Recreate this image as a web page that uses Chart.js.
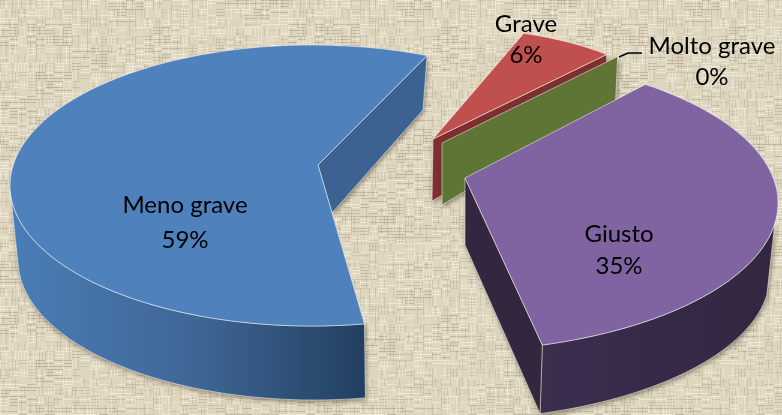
<!DOCTYPE html>
<html>
<head>
<meta charset="utf-8">
<title>Pie 3D</title>
<script src="https://cdn.jsdelivr.net/npm/chart.js@4/dist/chart.umd.js"></script>
<style>
  html, body { margin: 0; padding: 0; background: #dfd6c0; overflow: hidden; }
  canvas { display: block; }
</style>
</head>
<body>
<canvas id="pie" width="782" height="415"></canvas>
<script>
const categories = ['Meno grave', 'Grave', 'Molto grave', 'Giusto'];
const percents = [59, 6, 0, 35];
const colors = ['#4f81bd', '#c0504d', '#9bbb59', '#8064a2'];

// come ogni fetta viene proiettata: vertice e bordo ellittico, sopra e sotto
const views = [
  { twist: 0, top: { ax: 318, ay: 165, cx: 312, cy: 185.5, rx: 302, ry: 140.5 },
    bottom: { ax: 332, ay: 213, cx: 314, cy: 260, rx: 296, ry: 140 }, cutEnd: [423, 110],
    wallArc: [80, 178], wallX: [18, 366], wall: ['#4a7cb5', '#3f6796', '#223f60'], cut: '#3b6291' },
  { twist: -7.4, top: { ax: 433, ay: 139, cx: 460, cy: 158, rx: 246, ry: 129 },
    bottom: { ax: 432, ay: 201, cx: 460, cy: 204, rx: 246, ry: 129 },
    cut: '#7f2f2f' },
  { twist: 0, top: { ax: 442, ay: 143, cx: 444, cy: 150, rx: 250, ry: 130 },
    bottom: { ax: 442, ay: 205, cx: 442, cy: 194, rx: 250, ry: 130 },
    cut: '#5f7536' },
  { twist: -7, top: { ax: 465, ay: 178, cx: 445, cy: 203, rx: 333, ry: 148.5 },
    bottom: { ax: 465, ay: 245, cx: 445, cy: 275, rx: 325, ry: 145 },
    wallArc: [8, 73], wallX: [540, 778], wall: ['#3c2e4e', '#372a48', '#33263f'], cut: '#33263f' }
];

const labelSpots = [[185, 205, 240], [526, 24, 55], [712, 46, 77], [619, 234, 266]];

// texture di sfondo, trama di fili chiari e scuri
function weave() {
  const tile = document.createElement('canvas');
  tile.width = 288;
  tile.height = 288;
  const t = tile.getContext('2d');
  t.fillStyle = '#dfd6c0';
  t.fillRect(0, 0, 288, 288);
  const hash = (a, b) => {
    const s = Math.sin(a * 12.9898 + b * 78.233) * 43758.5453;
    return s - Math.floor(s);
  };
  t.filter = 'blur(0.6px)';
  for (let y = 0; y < 288; y += 3) {
    for (let x = 0; x < 288; x += 9) {
      const h = hash(x, y);
      const patch = hash(Math.floor(x / 36), Math.floor(y / 24) + 5);
      if (h < 0.25 + patch * 0.3) t.fillStyle = 'rgba(140,125,95,' + (0.12 + patch * 0.25) + ')';
      else if (h > 0.7) t.fillStyle = 'rgba(252,248,235,0.5)';
      else continue;
      t.fillRect(x, y, 9, 1);
    }
  }
  for (let x = 0; x < 288; x += 3) {
    for (let y = 0; y < 288; y += 9) {
      const h = hash(y + 300, x);
      if (h < 0.28) t.fillStyle = 'rgba(140,125,95,0.2)';
      else if (h > 0.72) t.fillStyle = 'rgba(252,248,235,0.4)';
      else continue;
      t.fillRect(x, y, 1, 9);
    }
  }
  return tile;
}

function rimPoint(g, deg) {
  const a = deg * Math.PI / 180;
  return [g.cx + g.rx * Math.cos(a), g.cy + g.ry * Math.sin(a)];
}

function rimPath(ctx, g, from, to) {
  const steps = Math.max(2, Math.ceil(Math.abs(to - from) / 2));
  for (let i = 0; i <= steps; i++) {
    const p = rimPoint(g, from + (to - from) * i / steps);
    ctx.lineTo(p[0], p[1]);
  }
}

function drawSlice(ctx, el, view, color) {
  const from = el.startAngle * 180 / Math.PI + view.twist;
  const to = el.endAngle * 180 / Math.PI + view.twist;
  const top = view.top, bottom = view.bottom;

  ctx.strokeStyle = 'rgba(255,255,255,0.5)';
  ctx.lineWidth = 1;

  ctx.save();
  ctx.shadowColor = 'rgba(60,50,30,0.55)';
  ctx.shadowBlur = 5;
  ctx.shadowOffsetX = 1;
  ctx.shadowOffsetY = 2;

  // parete esterna
  if (view.wall) {
    const grad = ctx.createLinearGradient(view.wallX[0], 0, view.wallX[1], 0);
    view.wall.forEach((c, i) => grad.addColorStop(i / (view.wall.length - 1), c));
    ctx.fillStyle = grad;
    ctx.beginPath();
    rimPath(ctx, top, view.wallArc[0], view.wallArc[1]);
    rimPath(ctx, bottom, view.wallArc[1], view.wallArc[0]);
    ctx.closePath();
    ctx.fill();
    ctx.shadowColor = 'transparent';
    ctx.stroke();
  }

  // parete del taglio
  ctx.shadowColor = 'rgba(60,50,30,0.55)';
  const rimTop = rimPoint(top, to);
  const rimBottom = view.cutEnd || rimPoint(bottom, to);
  ctx.fillStyle = view.cut;
  ctx.beginPath();
  ctx.moveTo(top.ax, top.ay);
  ctx.lineTo(rimTop[0], rimTop[1]);
  ctx.lineTo(rimBottom[0], rimBottom[1]);
  ctx.lineTo(bottom.ax, bottom.ay);
  ctx.closePath();
  ctx.fill();
  ctx.shadowColor = 'transparent';
  ctx.stroke();
  ctx.restore();

  // faccia superiore
  if (to - from > 0.01) {
    ctx.fillStyle = color;
    ctx.beginPath();
    ctx.moveTo(top.ax, top.ay);
    rimPath(ctx, top, from, to);
    ctx.closePath();
    ctx.fill();
    ctx.stroke();
  }
}

const pie3d = {
  id: 'pie3d',
  beforeDraw(chart) {
    const ctx = chart.ctx;
    ctx.fillStyle = ctx.createPattern(weave(), 'repeat');
    ctx.fillRect(0, 0, chart.width, chart.height);
  },
  beforeDatasetsDraw(chart) {
    const ctx = chart.ctx;
    chart.getDatasetMeta(0).data.forEach((el, i) => {
      drawSlice(ctx, el, views[i], colors[i]);
    });
    return false;
  },
  afterDraw(chart) {
    const ctx = chart.ctx;
    ctx.strokeStyle = '#000';
    ctx.lineWidth = 1.4;
    ctx.beginPath();
    ctx.moveTo(619, 57);
    ctx.lineTo(628, 53);
    ctx.lineTo(642, 53);
    ctx.stroke();

    ctx.fillStyle = '#000';
    ctx.font = '24px Lato';
    ctx.textAlign = 'center';
    ctx.textBaseline = 'middle';
    categories.forEach((name, i) => {
      ctx.fillText(name, labelSpots[i][0], labelSpots[i][1]);
      ctx.fillText(percents[i] + '%', labelSpots[i][0], labelSpots[i][2]);
    });
  }
};

new Chart(document.getElementById('pie'), {
  type: 'pie',
  data: {
    labels: categories,
    datasets: [{ data: percents, backgroundColor: colors, borderWidth: 0 }]
  },
  options: {
    responsive: false,
    animation: false,
    rotation: 170,
    plugins: { legend: { display: false }, tooltip: { enabled: false } }
  },
  plugins: [pie3d]
});
</script>
</body>
</html>
